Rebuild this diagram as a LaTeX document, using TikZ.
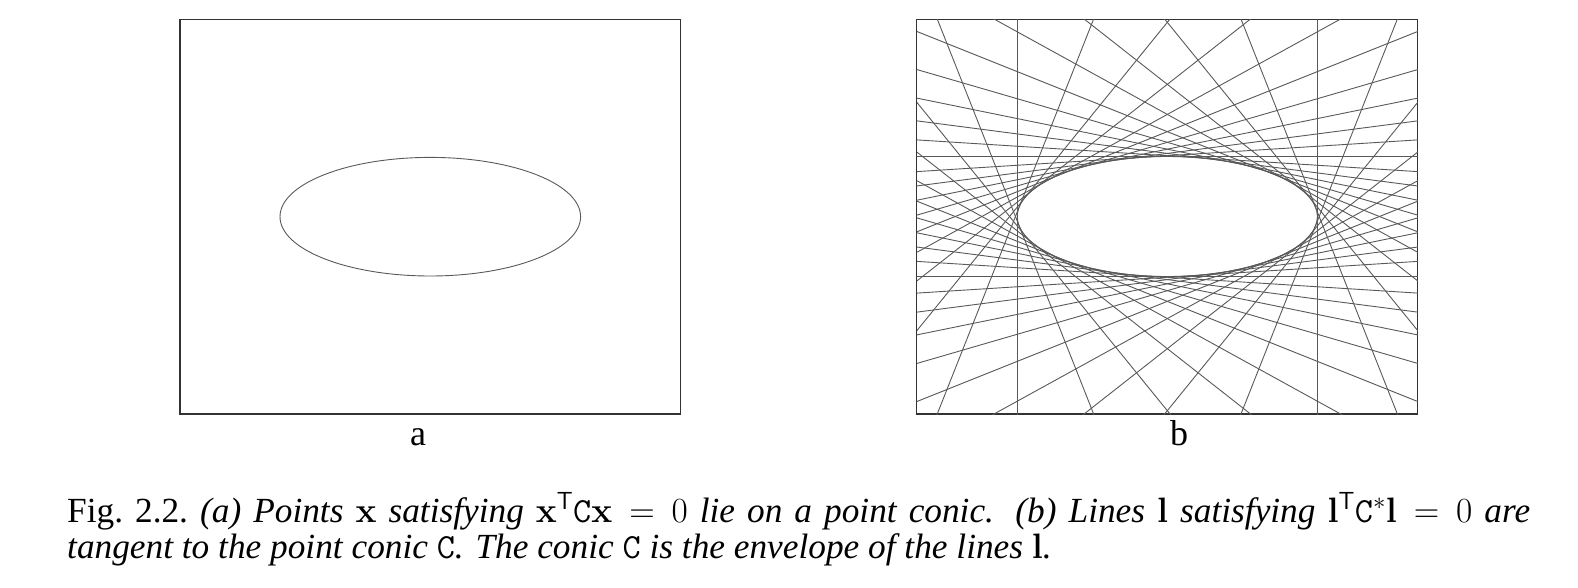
\documentclass[tikz,border=0pt]{standalone}
\usepackage{fix-cm}
\usepackage{amsmath}
\usepackage[no-math]{fontspec}
\setmainfont{Liberation Serif}
\usepackage{tikz}

\begin{document}
\begin{tikzpicture}[
    x=1pt, y=-1pt,
    panel/.style={draw=black!80, line width=1.3pt},
    conic/.style={draw=black!65, line width=0.9pt},
    tangentline/.style={draw=black!65, line width=0.9pt},
    sublabel/.style={font=\fontsize{36}{36}\selectfont, anchor=base},
    captiontext/.style={font=\fontsize{35.3}{36}\selectfont, anchor=base west,
        text width=1463pt, inner sep=0pt, align=justify}
    ]
    \useasboundingbox (0,0) rectangle (1578,588);

    % (a) point conic
    \draw[panel] (180,19.3) rectangle (680.7,414);
    \draw[conic] (430.3,216.7) ellipse [x radius=150.3, y radius=59.3];
    \node[sublabel] (labela) at (418,445) {a};

    % (b) lines tangent to the conic
    \draw[panel] (916.7,19.3) rectangle (1417.7,414);
    \begin{scope}[shift={(1167.3,216.5)}]
        \clip (-250.5,-197.2) rectangle (250.5,197.5);
        \foreach \t in {0,9,...,351}
            \draw[tangentline]
                ({150*cos(\t)-6*150*sin(\t)},{60*sin(\t)+6*60*cos(\t)}) --
                ({150*cos(\t)+6*150*sin(\t)},{60*sin(\t)-6*60*cos(\t)});
        \draw[conic] (0,0) ellipse [x radius=150, y radius=60];
    \end{scope}
    \node[sublabel] (labelb) at (1179,445) {b};

    % caption
    \node[captiontext] (caption) at (67,522.3) {\baselineskip=36pt Fig.~2.2.\ \textit{(a) Points $\mathbf{x}$ satisfying $\mathbf{x}^{\mathsf{T}}\mathtt{C}\mathbf{x}=0$ lie on a point conic. (b) Lines $\mathbf{l}$ satisfying $\mathbf{l}^{\mathsf{T}}\mathtt{C}^{*}\mathbf{l}=0$ are\linebreak tangent to the point conic $\mathtt{C}$. The conic $\mathtt{C}$ is the envelope of the lines $\mathbf{l}$.}\par};

\end{tikzpicture}
\end{document}
